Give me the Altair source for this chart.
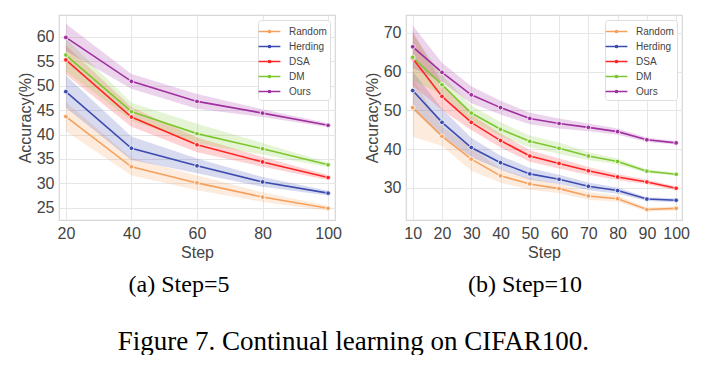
import altair as alt
import pandas as pd

methods = ["Random", "Herding", "DSA", "DM", "Ours"]
colors = ["#f5a05c", "#3b4bb0", "#ff2424", "#7cc72e", "#a02fa0"]

# (a) Step=5
steps_a = [20, 40, 60, 80, 100]
acc_a = {
    "Random":  [43.7, 33.4, 30.1, 27.2, 24.9],
    "Herding": [48.8, 37.2, 33.6, 30.3, 28.0],
    "DSA":     [55.3, 43.6, 37.9, 34.4, 31.2],
    "DM":      [56.3, 44.7, 40.2, 37.1, 33.8],
    "Ours":    [59.9, 50.9, 46.8, 44.4, 41.9],
}
err_a = {
    "Random":  [3.0, 1.8, 1.5, 1.0, 0.5],
    "Herding": [3.3, 2.4, 1.5, 1.0, 0.5],
    "DSA":     [3.0, 2.0, 1.5, 1.0, 0.5],
    "DM":      [3.4, 1.8, 2.0, 1.2, 0.5],
    "Ours":    [2.8, 1.5, 1.5, 0.8, 0.4],
}

# (b) Step=10
steps_b = [10, 20, 30, 40, 50, 60, 70, 80, 90, 100]
acc_b = {
    "Random":  [50.7, 43.3, 37.4, 33.1, 31.0, 29.8, 27.9, 27.2, 24.4, 24.7],
    "Herding": [55.1, 46.9, 40.4, 36.5, 33.6, 32.2, 30.4, 29.3, 27.1, 26.8],
    "DSA":     [63.4, 53.6, 46.9, 42.2, 38.2, 36.3, 34.4, 32.8, 31.5, 29.9],
    "DM":      [63.7, 56.6, 49.3, 45.1, 42.0, 40.2, 38.2, 36.8, 34.3, 33.5],
    "Ours":    [66.4, 59.8, 54.0, 50.7, 47.9, 46.6, 45.6, 44.5, 42.4, 41.6],
}
err_b = {
    "Random":  [7.5, 2.5, 3.0, 1.8, 1.5, 1.2, 1.0, 0.8, 0.5, 0.5],
    "Herding": [5.0, 3.5, 2.5, 1.8, 1.5, 1.2, 1.0, 0.8, 0.5, 0.5],
    "DSA":     [7.0, 3.5, 2.0, 1.8, 1.5, 1.3, 1.0, 0.8, 0.6, 0.5],
    "DM":      [6.0, 2.5, 2.0, 1.8, 1.5, 1.5, 1.0, 0.8, 0.5, 0.4],
    "Ours":    [5.5, 2.5, 2.2, 1.8, 1.5, 1.3, 1.0, 0.8, 0.6, 0.4],
}


def frame(steps, acc, err):
    rows = []
    for m in methods:
        for s, v, e in zip(steps, acc[m], err[m]):
            rows.append({"Step": s, "Accuracy": v, "lo": v - e, "hi": v + e, "Method": m})
    return pd.DataFrame(rows)


TXT = "#444444"
SANS = "Liberation Sans"
SERIF = "Liberation Serif"

LEG_SYMBOL = "M-1.45,0H1.45M0.14,0A0.14,0.14,0,1,1,-0.14,0A0.14,0.14,0,1,1,0.14,0"


def color_enc():
    return alt.Color(
        "Method:N",
        scale=alt.Scale(domain=methods, range=colors),
        legend=alt.Legend(
            title=None, orient="top-right", offset=5,
            symbolType=LEG_SYMBOL, symbolSize=225, symbolStrokeWidth=1.6, symbolOpacity=1,
            labelFontSize=10, labelFont=SANS, labelColor=TXT,
            strokeColor="#dddddd", fillColor="white", padding=3, cornerRadius=3,
            rowPadding=1.0, labelOffset=11,
        ),
    )


def panel(df, xdom, xticks, ydom, yticks, caption, dx):
    xs = alt.Scale(domain=xdom, nice=False, zero=False)
    ys = alt.Scale(domain=ydom, nice=False, zero=False)
    xa = alt.Axis(values=xticks, title="Step", labelOverlap=False)
    ya = alt.Axis(values=yticks, title="Accuracy(%)", labelOverlap=False)
    x = alt.X("Step:Q", scale=xs, axis=xa)
    y = alt.Y("Accuracy:Q", scale=ys, axis=ya)
    base = alt.Chart(df)
    band = base.mark_area(opacity=0.2).encode(
        x=x, y=alt.Y("lo:Q", scale=ys, axis=ya), y2="hi:Q", color=color_enc())
    line = base.mark_line(strokeWidth=1.6).encode(x=x, y=y, color=color_enc())
    pts = base.mark_circle(size=22, opacity=1, stroke="white", strokeWidth=0.8).encode(
        x=x, y=y, color=color_enc())
    return alt.layer(band, line, pts).properties(
        width=276, height=205,
        title=alt.TitleParams(caption, orient="bottom", font=SERIF, fontSize=24,
                              fontWeight="normal", color="black", offset=13, anchor="middle", dx=dx),
    )


a = panel(frame(steps_a, acc_a, err_a), [17.9, 102.1], steps_a, [22.5, 64.5],
          [25, 30, 35, 40, 45, 50, 55, 60], "(a) Step=5", -18)
b = panel(frame(steps_b, acc_b, err_b), [7.7, 102.0], steps_b, [21.7, 74.6],
          [30, 40, 50, 60, 70], "(b) Step=10", -19)

chart = alt.hconcat(a, b, spacing=20).resolve_scale(color="independent").properties(
    title=alt.TitleParams("Figure 7. Continual learning on CIFAR100.", orient="bottom",
                          font=SERIF, fontSize=27, fontWeight="normal", color="black",
                          offset=31, anchor="middle"),
    padding={"left": 8, "top": 6, "right": 0, "bottom": 0},
).configure_view(stroke="#d6d6d6", strokeWidth=1.2).configure_axis(
    domain=False, ticks=False, grid=True, gridColor="#e6e6e6", gridWidth=1,
    labelFont=SANS, labelFontSize=16, labelColor=TXT, labelPadding=5, labelOverlap=False,
    titleFont=SANS, titleFontSize=16, titleColor=TXT, titleFontWeight="normal", titlePadding=3,
).configure_axisX(labelFlush=False).configure_axisY(labelFlush=False)

chart.save("out.html", embed_options={"renderer": "svg", "actions": False})
